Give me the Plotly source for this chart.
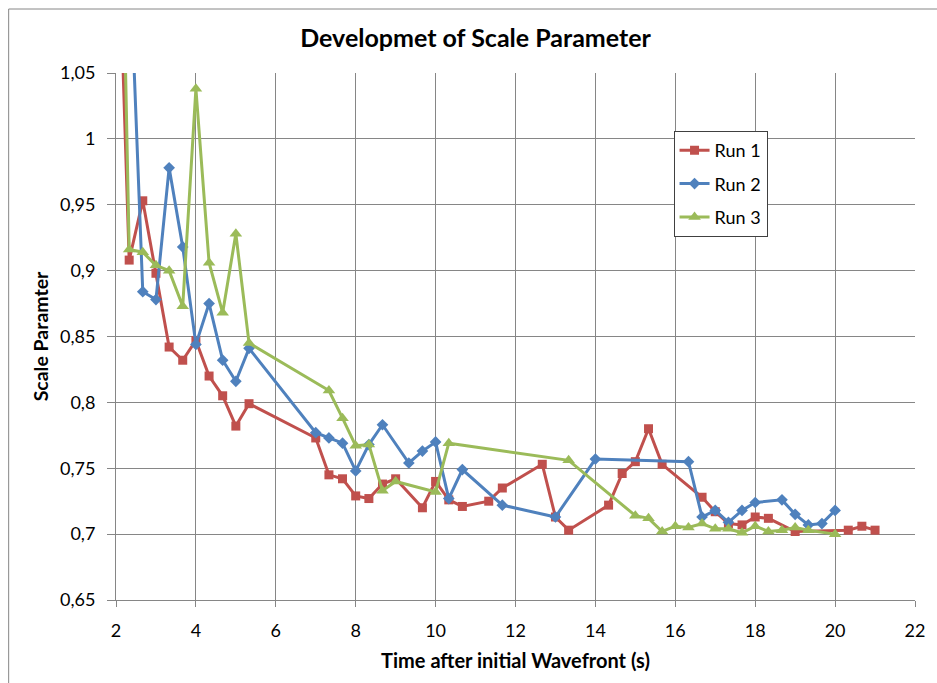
import plotly.graph_objects as go

# Time after initial wavefront (s) and fitted scale parameter per run
run1_t = [2.0, 2.33, 2.67, 3.0, 3.33, 3.67, 4.0, 4.33, 4.67, 5.0, 5.33, 7.0, 7.33, 7.67,
          8.0, 8.33, 8.67, 9.0, 9.67, 10.0, 10.33, 10.67, 11.33, 11.67, 12.67, 13.0, 13.33,
          14.33, 14.67, 15.0, 15.33, 15.67, 16.67, 17.0, 17.33, 17.67, 18.0, 18.33, 19.0,
          20.33, 20.67, 21.0]
run1_v = [1.22, 0.908, 0.953, 0.898, 0.842, 0.832, 0.847, 0.820, 0.805, 0.782, 0.799, 0.773,
          0.745, 0.742, 0.729, 0.727, 0.738, 0.742, 0.720, 0.740, 0.726, 0.721, 0.725, 0.735,
          0.753, 0.713, 0.703, 0.722, 0.746, 0.755, 0.780, 0.753, 0.728, 0.717, 0.708, 0.707,
          0.713, 0.712, 0.702, 0.703, 0.706, 0.703]

run2_t = [2.33, 2.67, 3.0, 3.33, 3.67, 4.0, 4.33, 4.67, 5.0, 5.33, 7.0, 7.33, 7.67, 8.0,
          8.33, 8.67, 9.33, 9.67, 10.0, 10.33, 10.67, 11.67, 13.0, 14.0, 16.33, 16.67, 17.0,
          17.33, 17.67, 18.0, 18.67, 19.0, 19.33, 19.67, 20.0]
run2_v = [1.15, 0.884, 0.878, 0.978, 0.918, 0.844, 0.875, 0.832, 0.816, 0.841, 0.777, 0.773,
          0.769, 0.748, 0.768, 0.783, 0.754, 0.763, 0.770, 0.727, 0.749, 0.722, 0.713, 0.757,
          0.755, 0.713, 0.718, 0.709, 0.718, 0.724, 0.726, 0.715, 0.707, 0.708, 0.718]

run3_t = [2.0, 2.33, 2.67, 3.0, 3.33, 3.67, 4.0, 4.33, 4.67, 5.0, 5.33, 7.33, 7.67, 8.0,
          8.33, 8.67, 9.0, 10.0, 10.33, 13.33, 15.0, 15.33, 15.67, 16.0, 16.33, 16.67, 17.0,
          17.33, 17.67, 18.0, 18.33, 18.67, 19.0, 19.33, 20.0]
run3_v = [1.41, 0.916, 0.914, 0.904, 0.900, 0.873, 1.038, 0.906, 0.868, 0.928, 0.845, 0.809,
          0.788, 0.767, 0.768, 0.733, 0.740, 0.732, 0.769, 0.756, 0.714, 0.712, 0.702, 0.706,
          0.705, 0.708, 0.704, 0.704, 0.701, 0.706, 0.702, 0.703, 0.705, 0.703, 0.700]

y_ticks = [0.65, 0.70, 0.75, 0.80, 0.85, 0.90, 0.95, 1.00, 1.05]
y_tick_text = ["0,65", "0,7", "0,75", "0,8", "0,85", "0,9", "0,95", "1", "1,05"]
x_ticks = [2, 4, 6, 8, 10, 12, 14, 16, 18, 20, 22]

FONT = "Lato"
GRID = "#868686"

series = [
    ("Run 1", run1_t, run1_v, "#C0504D", "square", 9),
    ("Run 2", run2_t, run2_v, "#4F81BD", "diamond", 9),
    ("Run 3", run3_t, run3_v, "#9BBB59", "triangle-up", 11),
]

fig = go.Figure()
for name, t, v, color, symbol, size in series:
    fig.add_trace(go.Scatter(
        x=t, y=v, name=name, mode="lines+markers", legendgroup=name,
        line=dict(color=color, width=3),
        marker=dict(symbol=symbol, size=size, color=color),
    ))

fig.update_layout(
    width=937, height=683,
    margin=dict(l=116, r=17, t=73, b=83),
    paper_bgcolor="white", plot_bgcolor="white",
    font=dict(family=FONT, size=18, color="#000000"),
    title=dict(text="<b>Developmet of Scale Parameter</b>", x=0.45, xref="paper",
               xanchor="center", y=1 - 38 / 683, yanchor="middle",
               font=dict(family=FONT, size=25, color="#000000")),
    showlegend=True,
    legend=dict(x=0.6978, y=0.89, xanchor="left", yanchor="top",
                bgcolor="white", bordercolor="#404040", borderwidth=1,
                tracegroupgap=7, font=dict(family=FONT, size=18)),
    xaxis=dict(range=[2, 22], tickvals=x_ticks, showgrid=True, gridcolor=GRID, gridwidth=1,
               showline=True, linecolor=GRID, ticks="outside", ticklen=6, tickcolor=GRID,
               zeroline=False, tickfont=dict(size=18), ticklabelstandoff=8,
               title=dict(text="<b>Time after initial Wavefront (s)</b>", standoff=14,
                          font=dict(size=20))),
    yaxis=dict(range=[0.65, 1.05], tickvals=y_ticks, ticktext=y_tick_text, showgrid=True,
               gridcolor=GRID, gridwidth=1, showline=True, linecolor=GRID, ticks="outside",
               ticklen=8, tickcolor=GRID, zeroline=False, tickfont=dict(size=18),
               ticklabelstandoff=8,
               title=dict(text="<b>Scale Paramter</b>", standoff=6, font=dict(size=19.5))),
)

# Outer chart frame
fig.add_shape(type="rect", xref="paper", yref="paper",
              x0=(8 - 116) / 804, x1=1.05, y0=-0.2, y1=1 + (73 - 9) / 527,
              line=dict(color=GRID, width=1), fillcolor="rgba(0,0,0,0)", layer="below")

fig.write_html("out.html")
